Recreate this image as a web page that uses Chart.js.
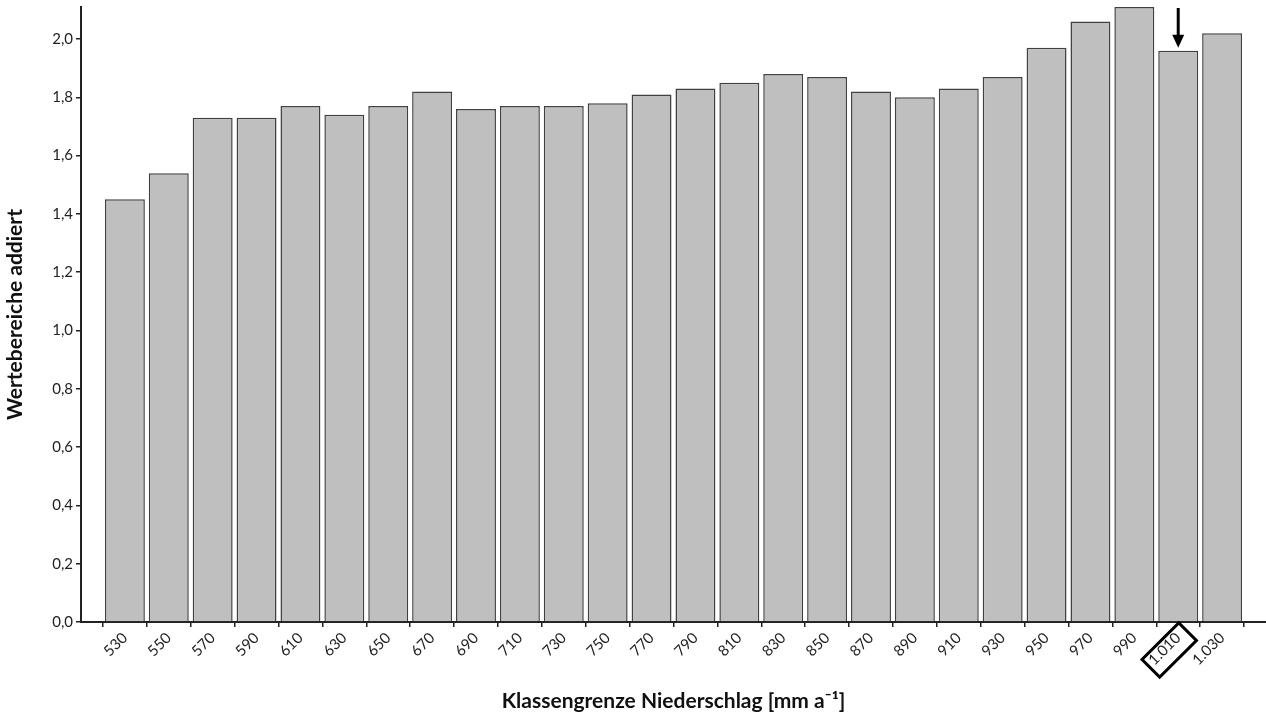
<!DOCTYPE html>
<html>
<head>
<meta charset="utf-8">
<script src="https://cdn.jsdelivr.net/npm/chart.js@4/dist/chart.umd.min.js"></script>
<style>
  html, body { margin: 0; padding: 0; background: #fff; }
  #wrap { width: 1266px; height: 720px; }
</style>
</head>
<body>
<div id="wrap"><canvas id="myChart" width="1266" height="720"></canvas></div>
<script>
// class limits (mm/a) and summed value ranges
var klassen = [530, 550, 570, 590, 610, 630, 650, 670, 690, 710, 730, 750, 770,
               790, 810, 830, 850, 870, 890, 910, 930, 950, 970, 990, 1010, 1030];
var werte = [1.45, 1.54, 1.73, 1.73, 1.77, 1.74, 1.77, 1.82, 1.76, 1.77, 1.77, 1.78, 1.81,
             1.83, 1.85, 1.88, 1.87, 1.82, 1.80, 1.83, 1.87, 1.97, 2.06, 2.11, 1.96, 2.02];
var markiert = 1010;   // highlighted class (arrow + box)
var yMax = 2.11;
var yStep = 0.2;

// empty slot on both ends, like the original figure
var labels = [''].concat(klassen.map(function(k) { return k.toLocaleString('de-DE'); }), ['']);
var data = [null].concat(werte, [null]);

var fontFam = 'Lato, "Open Sans", sans-serif';

var markerPlugin = {
    id: 'marker',
    afterDraw: function(chart) {
        var ctx = chart.ctx;
        var idx = klassen.indexOf(markiert) + 1;
        var bar = chart.getDatasetMeta(0).data[idx];
        var xs = chart.scales.x;
        ctx.save();
        // arrow above the bar
        ctx.strokeStyle = '#000';
        ctx.fillStyle = '#000';
        ctx.lineWidth = 3;
        ctx.beginPath();
        ctx.moveTo(bar.x, chart.chartArea.top + 1);
        ctx.lineTo(bar.x, bar.y - 14);
        ctx.stroke();
        ctx.beginPath();
        ctx.moveTo(bar.x - 6, bar.y - 16);
        ctx.lineTo(bar.x + 6, bar.y - 16);
        ctx.lineTo(bar.x, bar.y - 3);
        ctx.closePath();
        ctx.fill();
        // box around the tick label
        var tx = xs.getPixelForValue(idx);
        ctx.translate(tx - 9, xs.top + 28);
        ctx.rotate(-Math.PI / 4);
        ctx.lineWidth = 3;
        ctx.strokeRect(-26, -12.5, 52, 25);
        ctx.restore();
    }
};

var ctx = document.getElementById('myChart');
var myChart = new Chart(ctx, {
    type: 'bar',
    data: {
        labels: labels,
        datasets: [{
            data: data,
            backgroundColor: '#bfbfbf',
            borderColor: '#404040',
            borderWidth: 1.5,
            barPercentage: 0.91,
            categoryPercentage: 1.0
        }]
    },
    options: {
        responsive: false,
        animation: false,
        layout: { padding: { top: 7, right: 0, left: 0, bottom: 0 } },
        plugins: {
            legend: { display: false },
            tooltip: { enabled: false }
        },
        scales: {
            x: {
                offset: false,
                grid: { display: true, drawOnChartArea: false, drawTicks: true, tickLength: 5, color: '#222', lineWidth: 1.5 },
                border: { display: true, color: '#222', width: 2 },
                ticks: {
                    autoSkip: false,
                    minRotation: 45,
                    maxRotation: 45,
                    color: '#222',
                    padding: 2,
                    font: { family: fontFam, size: 15 }
                },
                title: {
                    display: true,
                    text: 'Klassengrenze Niederschlag [mm a⁻¹]',
                    color: '#111',
                    font: { family: fontFam, size: 21, weight: 'bold' },
                    padding: { top: 0, bottom: 6 }
                },
                afterFit: function(scale) {
                    scale.height = 98;
                    scale.paddingLeft = 0;
                    scale.paddingRight = 0;
                }
            },
            y: {
                min: 0,
                max: yMax,
                grid: { display: true, drawOnChartArea: false, drawTicks: true, tickLength: 5, color: '#222', lineWidth: 1.5 },
                border: { display: true, color: '#222', width: 2 },
                ticks: {
                    stepSize: yStep,
                    color: '#222',
                    padding: 3,
                    font: { family: fontFam, size: 15 },
                    callback: function(v) { return v.toFixed(1).replace('.', ','); }
                },
                afterBuildTicks: function(scale) {
                    scale.ticks = scale.ticks.filter(function(t) {
                        return Math.abs(t.value / yStep - Math.round(t.value / yStep)) < 1e-6;
                    });
                },
                title: {
                    display: true,
                    text: 'Wertebereiche addiert',
                    color: '#111',
                    font: { family: fontFam, size: 21, weight: 'bold' },
                    padding: { top: 3, bottom: 0 }
                },
                afterFit: function(scale) {
                    scale.width = 81;
                    scale.paddingTop = 0;
                    scale.paddingBottom = 0;
                }
            }
        }
    },
    plugins: [markerPlugin]
});
</script>
</body>
</html>
